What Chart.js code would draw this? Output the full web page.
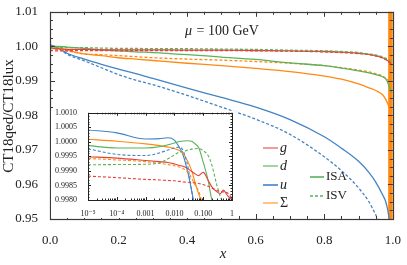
<!DOCTYPE html>
<html lang="en">
<head>
  <meta charset="UTF-8" />
  <title>CT18qed / CT18lux</title>
  <script src="https://cdn.jsdelivr.net/npm/chart.js"></script>
  <style>
    body { margin: 0; background: #fff; }
    .wrap { position: relative; width: 407px; height: 265px; }
    #mainChart { position: absolute; left: 0; top: 0; }
    #insetChart { position: absolute; left: 51px; top: 105px; }
  </style>
</head>
<body>
  <div class="wrap">
    <canvas id="mainChart" width="407" height="265"></canvas>
    <canvas id="insetChart" width="185" height="113"></canvas>
  </div>

  <script>
    // main panel, x in [0,1]
    const xMain = [0, 0.02, 0.05, 0.1, 0.15, 0.2, 0.25, 0.3, 0.4, 0.5, 0.6, 0.7, 0.8, 0.85, 0.9, 0.93, 0.95, 0.97, 0.98, 0.99, 0.995];
    const gISA = [0.9995, 0.9993, 0.9991, 0.9991, 0.9990, 0.9990, 0.9990, 0.9990, 0.9989, 0.9989, 0.9988, 0.9987, 0.9985, 0.9983, 0.9980, 0.9977, 0.9973, 0.9967, 0.9962, 0.9955, 0.9950];
    const gISV = [0.9988, 0.9987, 0.9987, 0.9988, 0.9988, 0.9988, 0.9988, 0.9988, 0.9988, 0.9988, 0.9987, 0.9986, 0.9984, 0.9982, 0.9979, 0.9976, 0.9972, 0.9966, 0.9961, 0.9953, 0.9948];
    const dISA = [0.9999, 1.0000, 0.9998, 0.9994, 0.9990, 0.9987, 0.9984, 0.9982, 0.9976, 0.9969, 0.9962, 0.9952, 0.9944, 0.9937, 0.9929, 0.9923, 0.9918, 0.9912, 0.9905, 0.9882, 0.9866];
    const dISV = [0.9993, 0.9996, 0.9996, 0.9996, 0.9995, 0.9994, 0.9994, 0.9993, 0.9993, 0.9992, 0.9991, 0.9989, 0.9987, 0.9985, 0.9982, 0.9978, 0.9975, 0.9970, 0.9965, 0.9960, 0.9957];
    const uISA = [1.0004, 0.9998, 0.9980, 0.9963, 0.9948, 0.9934, 0.9921, 0.9907, 0.9879, 0.9852, 0.9824, 0.9788, 0.9738, 0.9705, 0.9667, 0.9635, 0.9607, 0.9570, 0.9547, 0.9490, 0.9400];
    const uISV = [0.9998, 0.9996, 0.9977, 0.9958, 0.9938, 0.9918, 0.9902, 0.9889, 0.9858, 0.9824, 0.9789, 0.9745, 0.9680, 0.9640, 0.9590, 0.9550, 0.9512, 0.9470, 0.9440, 0.9380, 0.9350];
    const sISA = [1.0001, 0.9996, 0.9989, 0.9978, 0.9973, 0.9967, 0.9963, 0.9959, 0.9951, 0.9944, 0.9936, 0.9927, 0.9914, 0.9905, 0.9891, 0.9880, 0.9872, 0.9860, 0.9845, 0.9822, 0.9808];
    const sISV = [0.9994, 0.9991, 0.9987, 0.9978, 0.9976, 0.9973, 0.9970, 0.9967, 0.9963, 0.9960, 0.9956, 0.9951, 0.9944, 0.9938, 0.9931, 0.9926, 0.9921, 0.9914, 0.9907, 0.9899, 0.9895];
    // Sigma blows up right at x -> 1 (the orange strip)
    const sBandX = [0.986, 1.0];
    const sBandY = [1.01, 1.01];

    // inset, log x
    const xInset = [1e-5, 1e-4, 1e-3, 0.003, 0.006, 0.01, 0.015, 0.02, 0.03, 0.04, 0.05, 0.07, 0.1, 0.15, 0.2, 0.3, 0.4, 0.5, 0.7, 1];
    const gISAin = [0.99949, 0.99944, 0.99936, 0.99932, 0.99929, 0.99924, 0.99919, 0.99916, 0.99907, 0.99898, 0.99891, 0.99884, 0.99895, 0.99867, 0.99845, 0.99828, 0.99822, 0.99834, 0.99815, 0.99800];
    const gISVin = [0.99882, 0.99877, 0.99871, 0.99869, 0.99867, 0.99866, 0.99864, 0.99862, 0.99861, 0.99860, 0.99859, 0.99857, 0.99853, 0.99847, 0.99841, 0.99833, 0.99828, 0.99828, 0.99824, 0.99806];
    const dISAin = [0.99987, 0.99979, 0.99979, 0.99983, 0.99990, 0.99996, 1.00001, 1.00003, 1.00004, 1.00002, 0.99995, 0.99980, 0.99930, 0.99865, 0.99800, 0.99770, 0.99740, 0.99690, 0.99520, 0.98660];
    const dISVin = [0.99921, 0.99922, 0.99923, 0.99928, 0.99942, 0.99955, 0.99965, 0.99967, 0.99972, 0.99975, 0.99976, 0.99977, 0.99970, 0.99952, 0.99920, 0.99850, 0.99810, 0.99790, 0.99750, 0.99550];
    const uISAin = [1.00041, 1.00031, 1.00010, 1.00011, 1.00014, 1.00006, 0.99980, 0.99955, 0.99890, 0.99830, 0.99780, 0.99710, 0.99630, 0.99500, 0.99350, 0.99200, 0.99050, 0.98950, 0.98750, 0.98000];
    const uISVin = [0.99976, 0.99957, 0.99953, 0.99962, 0.99972, 0.99979, 0.99982, 0.99970, 0.99910, 0.99830, 0.99770, 0.99680, 0.99580, 0.99400, 0.99200, 0.99000, 0.98800, 0.98600, 0.98300, 0.97500];
    const sISAin = [1.00009, 1.00002, 0.99993, 0.99987, 0.99982, 0.99977, 0.99970, 0.99960, 0.99930, 0.99900, 0.99867, 0.99820, 0.99780, 0.99740, 0.99680, 0.99590, 0.99510, 0.99440, 0.99270, 0.98000];
    const sISVin = [0.99943, 0.99938, 0.99932, 0.99926, 0.99922, 0.99918, 0.99913, 0.99908, 0.99895, 0.99875, 0.99855, 0.99830, 0.99780, 0.99760, 0.99730, 0.99670, 0.99630, 0.99600, 0.99510, 0.98950];

    const insetTickVals = [1e-5, 1e-4, 1e-3, 1e-2, 1e-1, 1];
    const insetTickLabels = ['10\u207B\u2075', '10\u207B\u2074', '0.001', '0.010', '0.100', '1'];

    const RED = '#e5403c', GREEN = '#5bb25b', BLUE = '#4383c3', ORANGE = '#ff8a12';
    const SERIF = '"Liberation Serif", "DejaVu Serif", serif';

    const pts = (xs, ys) => xs.map((x, i) => ({ x: x, y: ys[i] }));

    function line(data, color, dashed, width) {
      return {
        data: data,
        borderColor: color,
        borderWidth: width,
        borderDash: dashed ? [3, 2] : [],
        pointRadius: 0,
        fill: false,
        cubicInterpolationMode: 'monotone'
      };
    }

    // inward ticks + box around the plot area
    function drawFrame(chart, t) {
      const ctx = chart.ctx, a = chart.chartArea;
      const sx = chart.scales.x, sy = chart.scales.y;
      ctx.save();
      ctx.strokeStyle = t.color;
      ctx.lineWidth = 1;
      ctx.beginPath();
      const xm = (vals, len) => vals.forEach(v => {
        const p = Math.round(sx.getPixelForValue(v)) + 0.5;
        ctx.moveTo(p, a.bottom); ctx.lineTo(p, a.bottom - len);
        ctx.moveTo(p, a.top); ctx.lineTo(p, a.top + len);
      });
      const ym = (vals, len) => vals.forEach(v => {
        const p = Math.round(sy.getPixelForValue(v)) + 0.5;
        ctx.moveTo(a.left, p); ctx.lineTo(a.left + len, p);
        ctx.moveTo(a.right, p); ctx.lineTo(a.right - len, p);
      });
      xm(t.xMajor, t.major); xm(t.xMinor, t.minor);
      ym(t.yMajor, t.major); ym(t.yMinor, t.minor);
      ctx.stroke();
      ctx.lineWidth = t.width;
      ctx.strokeRect(Math.round(a.left) + 0.5, Math.round(a.top) + 0.5,
        Math.round(a.right - a.left), Math.round(a.bottom - a.top));
      ctx.restore();
    }

    const mainTicks = { color: '#3a3a3a', width: 1.2, major: 5, minor: 3, xMajor: [], xMinor: [], yMajor: [], yMinor: [] };
    for (let i = 0; i <= 20; i++) (i % 4 ? mainTicks.xMinor : mainTicks.xMajor).push(i * 0.05);
    for (let i = 0; i <= 24; i++) (i % 4 ? mainTicks.yMinor : mainTicks.yMajor).push(0.95 + i * 0.0025);

    const insetTicks = { color: '#222', width: 1, major: 3, minor: 1.5, xMajor: insetTickVals, xMinor: [], yMajor: [], yMinor: [] };
    for (let d = -5; d < 0; d++) for (let k = 2; k <= 9; k++) insetTicks.xMinor.push(k * Math.pow(10, d));
    for (let i = 0; i <= 30; i++) (i % 5 ? insetTicks.yMinor : insetTicks.yMajor).push(0.998 + i * 0.0001);

    const mainDecor = {
      id: 'mainDecor',
      afterDatasetsDraw(chart) {
        drawFrame(chart, mainTicks);
        const ctx = chart.ctx;
        ctx.save();
        ctx.fillStyle = '#222';
        // annotation
        ctx.textBaseline = 'alphabetic';
        ctx.font = 'italic 14px ' + SERIF;
        ctx.fillText('\u03BC', 185, 35);
        ctx.font = '14px ' + SERIF;
        ctx.fillText(' = 100 GeV', 193, 35);
        // axis titles
        ctx.textAlign = 'center';
        ctx.textBaseline = 'middle';
        ctx.font = 'italic 15px ' + SERIF;
        ctx.fillText('x', 223, 254);
        ctx.translate(9, 116);
        ctx.rotate(-Math.PI / 2);
        ctx.font = '15px ' + SERIF;
        ctx.fillText('CT18qed/CT18lux', 0, 0);
        ctx.restore();

        // legend
        ctx.save();
        ctx.lineWidth = 1.6;
        const items = [
          { t: 'g', it: true, c: RED, y: 148, a: 0.65 },
          { t: 'd', it: true, c: GREEN, y: 166, a: 0.7 },
          { t: 'u', it: true, c: BLUE, y: 185, a: 1 },
          { t: '\u03A3', it: false, c: ORANGE, y: 203, a: 0.65 }
        ];
        items.forEach(e => {
          ctx.globalAlpha = e.a;
          ctx.strokeStyle = e.c;
          ctx.beginPath(); ctx.moveTo(263, e.y); ctx.lineTo(278, e.y); ctx.stroke();
          ctx.globalAlpha = 1;
          ctx.fillStyle = '#222';
          ctx.font = (e.it ? 'italic ' : '') + '14px ' + SERIF;
          ctx.textBaseline = 'middle';
          ctx.fillText(e.t, 280, e.y);
        });
        ctx.strokeStyle = GREEN;
        ctx.beginPath(); ctx.moveTo(310, 177); ctx.lineTo(324, 177); ctx.stroke();
        ctx.setLineDash([3, 2]);
        ctx.beginPath(); ctx.moveTo(310, 196); ctx.lineTo(324, 196); ctx.stroke();
        ctx.setLineDash([]);
        ctx.font = '13px ' + SERIF;
        ctx.fillText('ISA', 326, 177);
        ctx.fillText('ISV', 326, 196);
        ctx.restore();
      }
    };

    new Chart(document.getElementById('mainChart'), {
      type: 'line',
      data: {
        datasets: [
          line(pts(xMain, dISV), GREEN, true, 1.3),
          line(pts(xMain, gISV), RED, true, 1.3),
          line(pts(xMain, gISA), RED, false, 1.3),
          line(pts(xMain, dISA), GREEN, false, 1.3),
          line(pts(xMain, sISV), ORANGE, true, 1.3),
          line(pts(xMain, sISA), ORANGE, false, 1.3),
          line(pts(xMain, uISV), BLUE, true, 1.3),
          line(pts(xMain, uISA), BLUE, false, 1.3),
          {
            data: pts(sBandX, sBandY),
            borderColor: '#e87400',
            borderWidth: 1,
            backgroundColor: ORANGE,
            pointRadius: 0,
            fill: 'start'
          }
        ]
      },
      options: {
        responsive: false,
        animation: false,
        layout: { padding: { top: 11, right: 10, left: 0, bottom: 0 } },
        plugins: { legend: { display: false }, tooltip: { enabled: false } },
        scales: {
          x: {
            type: 'linear', min: 0, max: 1,
            grid: { display: false }, border: { display: false },
            afterFit: s => { s.height = 46; },
            ticks: { stepSize: 0.2, padding: 6, color: '#222', font: { family: SERIF, size: 13 },
                     callback: v => v.toFixed(1), maxRotation: 0 }
          },
          y: {
            min: 0.95, max: 1.01,
            grid: { display: false }, border: { display: false },
            afterFit: s => { s.width = 50; },
            ticks: { stepSize: 0.01, padding: 4, color: '#222', font: { family: SERIF, size: 13 },
                     callback: v => v.toFixed(2) }
          }
        }
      },
      plugins: [mainDecor]
    });

    new Chart(document.getElementById('insetChart'), {
      type: 'line',
      data: {
        datasets: [
          line(pts(xInset, gISVin), RED, true, 1.1),
          line(pts(xInset, dISVin), GREEN, true, 1.1),
          line(pts(xInset, sISVin), ORANGE, true, 1.1),
          line(pts(xInset, uISVin), BLUE, true, 1.1),
          line(pts(xInset, gISAin), RED, false, 1.1),
          line(pts(xInset, dISAin), GREEN, false, 1.1),
          line(pts(xInset, sISAin), ORANGE, false, 1.1),
          line(pts(xInset, uISAin), BLUE, false, 1.1)
        ]
      },
      options: {
        responsive: false,
        animation: false,
        layout: { padding: { top: 6, right: 4, left: 0, bottom: 0 } },
        plugins: { legend: { display: false }, tooltip: { enabled: false } },
        scales: {
          x: {
            type: 'logarithmic', min: 1e-5, max: 1,
            grid: { display: false }, border: { display: false },
            afterFit: s => { s.height = 18; },
            afterBuildTicks: s => { s.ticks = insetTickVals.map(v => ({ value: v })); },
            ticks: { padding: 1, color: '#222', font: { family: SERIF, size: 8 }, maxRotation: 0, autoSkip: false,
                     callback: (v, i) => insetTickLabels[i] }
          },
          y: {
            min: 0.998, max: 1.001,
            grid: { display: false }, border: { display: false },
            afterFit: s => { s.width = 37; },
            ticks: { stepSize: 0.0005, padding: 3, color: '#222', font: { family: SERIF, size: 8 },
                     callback: v => v.toFixed(4) }
          }
        }
      },
      plugins: [{
        id: 'insetFrame',
        beforeDraw(c) {
          // only the plot box and label strip are opaque, so main curves above stay visible
          const a = c.chartArea, ctx = c.ctx;
          ctx.save();
          ctx.fillStyle = '#fff';
          ctx.fillRect(0, a.top - 2, c.width, c.height - a.top + 2);
          ctx.restore();
        },
        afterDatasetsDraw: c => drawFrame(c, insetTicks)
      }]
    });
  </script>
</body>
</html>
